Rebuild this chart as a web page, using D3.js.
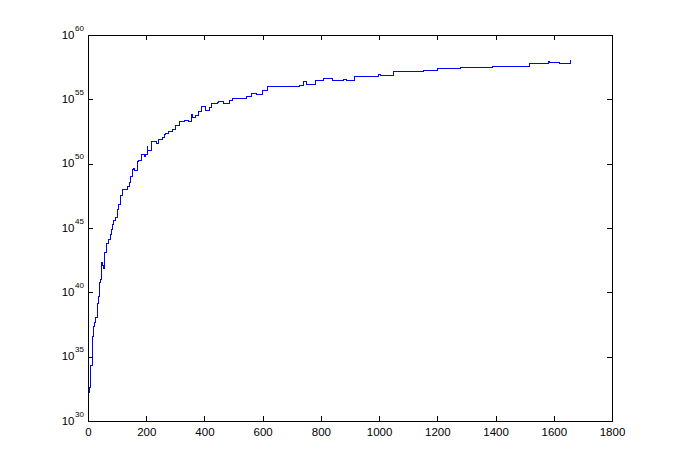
<!DOCTYPE html>
<html>
<head>
<meta charset="utf-8">
<script src="https://cdn.jsdelivr.net/npm/d3@7"></script>
<style>
  html, body { margin: 0; padding: 0; background: #fff; }
  svg { display: block; }
  text { font-family: "Liberation Sans", Arial, Helvetica, sans-serif; fill: #000; }
</style>
</head>
<body>
<svg id="chart" width="676" height="473"></svg>
<script>
// ---- data (x, and base-10 exponent of y) ----
const xValues = [3.4, 5, 7, 10, 14, 17, 20, 24, 27, 31, 35, 39, 44, 48, 51.5, 54, 56, 62, 69, 77, 81, 85, 89, 95,
  100, 106, 112, 117, 134, 141, 147, 153, 158, 161, 169, 174, 184, 193, 198, 204, 206, 218, 236, 242, 255, 262,
  267, 277, 290, 299, 314, 333, 345, 356, 358, 368, 379, 389, 405, 417, 425, 444, 449, 465, 485, 495, 543, 561,
  580, 600, 616, 728, 740, 750, 781, 808, 841, 877, 889, 915, 997, 1005, 1050, 1154, 1200, 1278, 1390, 1518,
  1581, 1585, 1619, 1656];
const yExponents = [32.18, 32.64, 33.42, 34.35, 35.67, 36.53, 37.31, 37.69, 38.08, 39.17, 39.64, 40.80, 40.96,
  42.28, 42.12, 41.89, 43.06, 43.83, 44.07, 44.46, 44.92, 45.31, 45.62, 45.82, 46.40, 46.79, 47.56, 48.03, 48.19,
  48.57, 48.99, 49.51, 49.61, 49.45, 50.15, 50.23, 50.75, 50.54, 50.75, 51.32, 51.06, 51.74, 51.58, 51.89, 52.05,
  52.23, 52.36, 52.52, 52.67, 52.93, 53.29, 53.39, 53.29, 53.81, 53.60, 53.76, 54.07, 54.48, 54.17, 54.38, 54.64,
  54.74, 54.87, 54.71, 54.92, 55.08, 55.24, 55.47, 55.39, 55.65, 56.01, 56.11, 56.40, 56.17, 56.50, 56.63, 56.43,
  56.56, 56.50, 56.79, 56.91, 56.87, 57.15, 57.26, 57.41, 57.50, 57.59, 57.80, 57.92, 57.87, 57.80, 58.03];

// ---- tick labels ----
const xTicks = [0, 200, 400, 600, 800, 1000, 1200, 1400, 1600, 1800];
const yTickExponents = [30, 35, 40, 45, 50, 55, 60];

const svg = d3.select("#chart");
const mLeft = 88, mRight = 612, mTop = 35, mBottom = 421;

const x = d3.scaleLinear().domain([0, 1800]).range([mLeft, mRight]);
const y = d3.scaleLog().domain([1e30, 1e60]).range([mBottom, mTop]);

const data = xValues.map((v, i) => ({ x: v, y: Math.pow(10, yExponents[i]) }));

// line
const line = d3.line().x(d => x(d.x)).y(d => y(d.y)).curve(d3.curveStepAfter);
svg.append("path")
  .datum(data)
  .attr("d", line)
  .attr("fill", "none")
  .attr("stroke", "#0000ff")
  .attr("stroke-width", 1)
  .attr("shape-rendering", "crispEdges");

// axes
const yTickVals = yTickExponents.map(e => Math.pow(10, e));
function styleAxis(g) {
  g.selectAll("path.domain").attr("stroke", "#000").attr("stroke-width", 1).attr("shape-rendering", "crispEdges");
  g.selectAll(".tick line").attr("stroke", "#000").attr("stroke-width", 1).attr("shape-rendering", "crispEdges");
}
const xb = svg.append("g").attr("transform", `translate(0,${mBottom})`)
  .call(d3.axisBottom(x).tickValues(xTicks).tickSize(-5).tickSizeOuter(0).tickPadding(7).tickFormat(d3.format("d")));
xb.selectAll("text").attr("font-size", "11.5px").attr("font-family", "Liberation Sans, Arial, sans-serif");
styleAxis(xb);

const xt = svg.append("g").attr("transform", `translate(0,${mTop})`)
  .call(d3.axisTop(x).tickValues(xTicks).tickSize(-5).tickSizeOuter(0).tickFormat(""));
styleAxis(xt);

const yl = svg.append("g").attr("transform", `translate(${mLeft},0)`)
  .call(d3.axisLeft(y).tickValues(yTickVals).tickSize(-5).tickSizeOuter(0).tickFormat(""));
styleAxis(yl);

const yr = svg.append("g").attr("transform", `translate(${mRight},0)`)
  .call(d3.axisRight(y).tickValues(yTickVals).tickSize(-5).tickSizeOuter(0).tickFormat(""));
styleAxis(yr);

// y labels 10^n
const lab = svg.append("g");
yTickExponents.forEach(e => {
  const py = y(Math.pow(10, e));
  lab.append("text").attr("x", 74.5).attr("y", py + 3.5)
    .attr("text-anchor", "end").attr("font-size", "11.5px").text("10");
  lab.append("text").attr("x", 75).attr("y", py - 4.3)
    .attr("text-anchor", "start").attr("font-size", "8px").text(String(e));
});
</script>
</body>
</html>
